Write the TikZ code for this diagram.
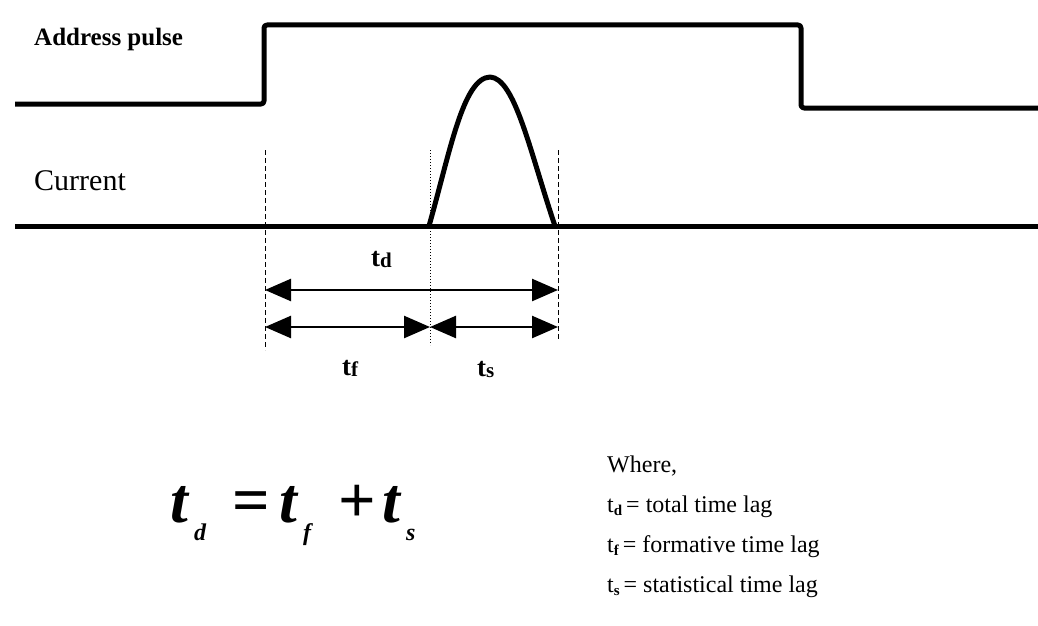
\documentclass[tikz,border=0pt]{standalone}
\usepackage{fontspec}
\setmainfont{Liberation Serif}
\usetikzlibrary{arrows.meta}
\begin{document}
\begin{tikzpicture}[x=1pt,y=-1pt,
  sig/.style={line width=5pt,line join=round,rounded corners=3pt},
  guide/.style={line width=1pt,dashed,dash pattern=on 5pt off 3pt},
  dim/.style={line width=2.5pt,{Triangle[length=26pt,width=22pt]}-{Triangle[length=26pt,width=22pt]}},
  lbl/.style={font=\bfseries\fontsize{27}{30}\selectfont,inner sep=0pt,anchor=base west},
  eqt/.style={font=\bfseries\itshape\fontsize{64}{66}\selectfont,inner sep=0pt,anchor=base west},
  eqs/.style={font=\bfseries\itshape\fontsize{24}{26}\selectfont,inner sep=0pt,anchor=base west},
  eqo/.style={font=\bfseries\fontsize{66}{68}\selectfont,inner sep=0pt,anchor=base},
  txt/.style={font=\fontsize{24}{28}\selectfont,inner sep=0pt,anchor=base west}]
\useasboundingbox (0,0) rectangle (1038,626);
% address pulse
\coordinate (a0) at (15,104);
\coordinate (a1) at (264,104);
\coordinate (a2) at (264,25);
\coordinate (a3) at (801,25);
\coordinate (a4) at (801,108);
\coordinate (a5) at (1038,108);
\draw[sig] (a0) -- (a1) -- (a2) -- (a3) -- (a4) -- (a5);
% current
\coordinate (c0) at (15,226);
\coordinate (c1) at (1038,226);
\draw[sig] (c0) -- (c1);
\coordinate (p0) at (429,226);
\coordinate (pk) at (490,77);
\coordinate (p1) at (555,226);
\draw[line width=5pt,line join=round] (p0) .. controls (450,152) and (463,78) .. (pk) .. controls (515,78) and (530,152) .. (p1);
% guides
\coordinate (g1t) at (265,150); \coordinate (g1b) at (265,350);
\coordinate (g2t) at (430,150); \coordinate (g2b) at (430,345);
\coordinate (g3t) at (558,150); \coordinate (g3b) at (558,340);
\draw[guide] (g1t) -- (g1b);
\draw[line width=1pt,dotted] (g2t) -- (g2b);
\draw[guide] (g3t) -- (g3b);
% dimension arrows
\coordinate (d1) at (265,290); \coordinate (d2) at (558,290);
\coordinate (f1) at (265,327); \coordinate (f2) at (430,327); \coordinate (f3) at (558,327);
\draw[dim] (d1) -- (d2);
\draw[dim] (f1) -- (f2);
\draw[dim] (f2) -- (f3);
\node[lbl] (ltd) at (371,266) {t\raisebox{-0.15ex}{\fontsize{21}{22}\selectfont d}};
\node[lbl] (ltf) at (342,375) {t\raisebox{-0.15ex}{\fontsize{21}{22}\selectfont f}};
\node[lbl] (lts) at (477,376) {t\raisebox{-0.15ex}{\fontsize{21}{22}\selectfont s}};
% labels
\node[font=\bfseries\fontsize{25}{28}\selectfont,inner sep=0pt,anchor=base west] (ap) at (34,46) {Address pulse};
\node[font=\fontsize{30}{33}\selectfont,inner sep=0pt,anchor=base west] (cur) at (34,190) {Current};
% equation
\node[eqt] (e1) at (170,522) {t};
\node[eqs] (e1s) at (194,540) {d};
\node[eqo] (eq) at (251,522) {=};
\node[eqt] (e2) at (279,522) {t};
\node[eqs] (e2s) at (303,540) {f};
\node[eqo] (pl) at (357,522) {+};
\node[eqt] (e3) at (382,522) {t};
\node[eqs] (e3s) at (406,540) {s};
% legend
\node[txt] (w) at (607,472) {Where,};
\node[txt] (l1) at (607,512) {t\raisebox{-0.3ex}{\fontsize{15}{18}\selectfont\bfseries d}\,= total time lag};
\node[txt] (l2) at (607,552) {t\raisebox{-0.3ex}{\fontsize{15}{18}\selectfont\bfseries f}\,= formative time lag};
\node[txt] (l3) at (607,592) {t\raisebox{-0.3ex}{\fontsize{15}{18}\selectfont\bfseries s}\,= statistical time lag};
\end{tikzpicture}
\end{document}
